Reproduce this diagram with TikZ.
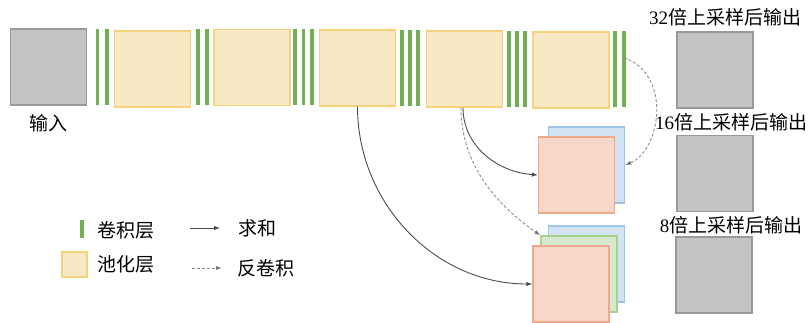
\documentclass[tikz,border=0pt]{standalone}
\usepackage{fontspec}
\setmainfont{Liberation Serif}
\newfontfamily\cjk{Noto Sans CJK SC}
\usetikzlibrary{arrows.meta}
\definecolor{grayfill}{HTML}{C4C4C4}
\definecolor{grayline}{HTML}{999999}
\definecolor{poolfill}{HTML}{F8E8C4}
\definecolor{poolline}{HTML}{F6D27E}
\definecolor{convgreen}{HTML}{72B053}
\definecolor{orfill}{HTML}{F8D6C8}
\definecolor{orline}{HTML}{F0A88A}
\definecolor{blfill}{HTML}{D2E3F3}
\definecolor{blline}{HTML}{9DC3E6}
\definecolor{grfill}{HTML}{D6E9D0}
\definecolor{grline}{HTML}{A9D18E}
\begin{document}
\begin{tikzpicture}[x=1pt,y=-1pt,
  sq/.style={minimum width=76pt,minimum height=76pt,inner sep=0pt,line width=1.3pt},
  graybox/.style={sq,draw=grayline,fill=grayfill},
  poolbox/.style={sq,draw=poolline,fill=poolfill},
  orbox/.style={sq,draw=orline,fill=orfill},
  blbox/.style={sq,draw=blline,fill=blfill},
  grbox/.style={sq,draw=grline,fill=grfill},
  bar/.style={fill=convgreen,minimum width=3.6pt,minimum height=76pt,inner sep=0pt},
  lbl/.style={inner sep=0pt,font=\fontsize{19}{22}\selectfont},
  sumarrow/.style={draw=black!70,line width=0.9pt,-{Latex[length=6pt,width=4.5pt]}},
  deconvarrow/.style={draw=black!45,line width=0.9pt,dash pattern=on 3pt off 2pt,-{Latex[length=6pt,width=4.5pt,fill=black!85]}}]
\useasboundingbox (0,0) rectangle (812,323);
% input
\node[graybox] (in) at (48.5,67) {};
\node[lbl] (inl) at (48,123) {\cjk 输入};
% conv bars and pools
\node[bar] (b1) at (97.5,67) {};
\node[bar] (b2) at (107,67) {};
\node[poolbox] (p1) at (152.5,69) {};
\node[bar] (b3) at (198,67) {};
\node[bar] (b4) at (207,67) {};
\node[poolbox] (p2) at (252,67.5) {};
\node[bar] (b5) at (295,67) {};
\node[bar] (b6) at (303.5,67) {};
\node[bar] (b7) at (312,67) {};
\node[poolbox] (p3) at (357.5,68) {};
\node[bar] (b8) at (402,68) {};
\node[bar] (b9) at (410,68) {};
\node[bar] (b10) at (418,68) {};
\node[poolbox] (p4) at (464.5,69) {};
\node[bar] (b11) at (509,69) {};
\node[bar] (b12) at (517,69) {};
\node[bar] (b13) at (525,69) {};
\node[poolbox] (p5) at (571,70) {};
\node[bar] (b14) at (615,69.5) {};
\node[bar] (b15) at (624,69.5) {};
% outputs
\node[graybox] (o1) at (715,70) {};
\node[lbl] (o1l) at (725,17) {32\cjk 倍上采样后输出};
\node[graybox] (o2) at (715,173.5) {};
\node[lbl] (o2l) at (731,122) {16\cjk 倍上采样后输出};
\node[graybox] (o3) at (714,275) {};
\node[lbl] (o3l) at (731,225) {8\cjk 倍上采样后输出};
% stacks
\node[blbox] (s1b) at (586.5,165) {};
\node[orbox] (s1o) at (576.5,175) {};
\node[blbox] (s2b) at (586.5,264) {};
\node[grbox] (s2g) at (579,274) {};
\node[orbox] (s2o) at (571,284) {};
% connectors
\draw[sumarrow] (p3.south) .. controls +(0,97) and +(-97,0) .. (s2o.west);
\draw[sumarrow] ([xshift=-1.5pt]p4.south) .. controls +(0,38) and +(-41,-3) .. (s1o.west);
\draw[deconvarrow] ([xshift=-3.5pt]p4.south) .. controls +(0,60) and +(-40,-28) .. (s2g.north west);
\draw[deconvarrow] ([yshift=12pt]b15.center) .. controls +(49,18) and +(35,-14) .. (s1b.east);
% legend
\node[bar,minimum height=18pt] (lb) at (82,229) {};
\node[lbl] (lbt) at (126,230) {\cjk 卷积层};
\node[poolbox,minimum width=25pt,minimum height=25pt] (lp) at (74.5,264.5) {};
\node[lbl] (lpt) at (126,264) {\cjk 池化层};
\coordinate (la1) at (190,228);
\coordinate (la2) at (220,228);
\draw[sumarrow] (la1) -- (la2);
\node[lbl] (lat) at (257,228) {\cjk 求和};
\coordinate (ld1) at (192,268);
\coordinate (ld2) at (222,268);
\draw[deconvarrow] (ld1) -- (ld2);
\node[lbl] (ldt) at (266,268) {\cjk 反卷积};
\end{tikzpicture}
\end{document}
